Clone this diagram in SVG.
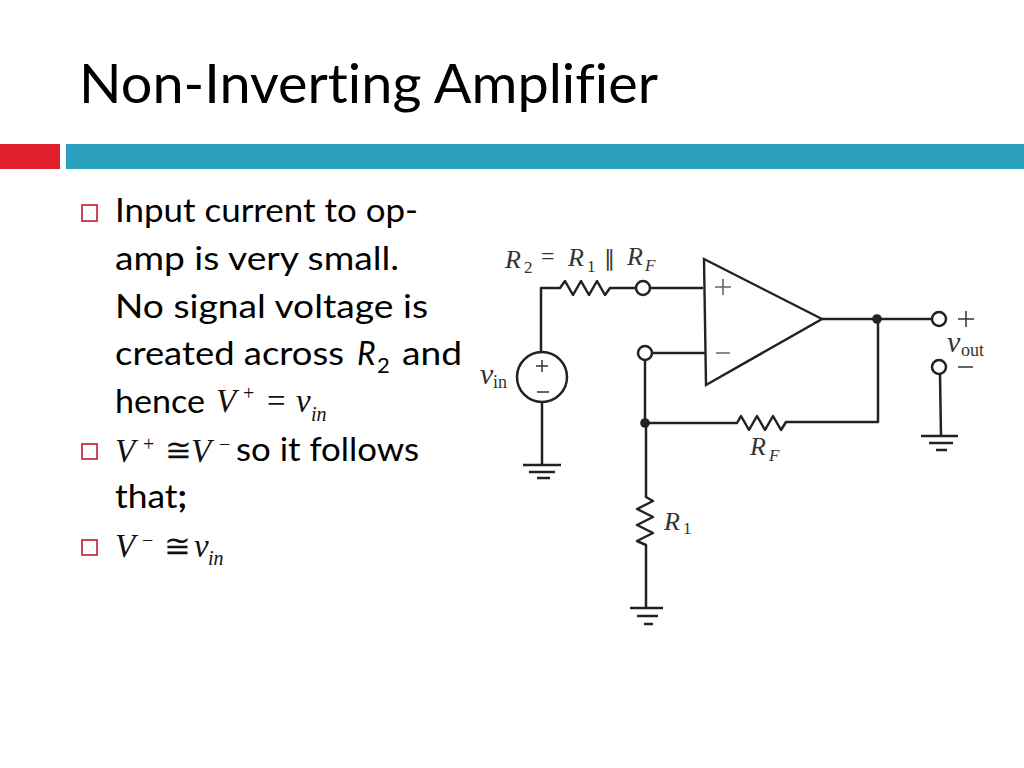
<svg xmlns="http://www.w3.org/2000/svg" width="1024" height="768" viewBox="0 0 1024 768">
<style>
text{font-variant-ligatures:none}
.t{font-family:"Lato","Noto Sans",sans-serif;font-size:32px;fill:#000}
.h{font-family:"Lato","Noto Sans",sans-serif;font-size:54px;fill:#000}
.m{font-family:"Liberation Serif",serif;fill:#111}
.mi{font-family:"Liberation Serif",serif;font-style:italic;fill:#111}
.c{font-family:"Liberation Serif",serif;fill:#333}
.ci{font-family:"Liberation Serif",serif;font-style:italic;fill:#333}
.w{fill:none;stroke:#222;stroke-width:2.5;stroke-linejoin:round}
.g{fill:none;stroke:#222;stroke-width:2.6}
.o{fill:#fff;stroke:#222;stroke-width:2.5}
.b{fill:#fff;stroke:#c8304a;stroke-width:1.8}
.d{fill:#222}
</style>
<rect width="1024" height="768" fill="#fff"/>
<g id="header">
<text class="h" x="79" y="103" textLength="579" lengthAdjust="spacingAndGlyphs">Non-Inverting Amplifier</text>
<rect x="0" y="144" width="60" height="25" fill="#e0202c"/>
<rect x="66" y="144" width="958" height="25" fill="#2ca0bf"/>
</g>
<g id="bullets">
<rect class="b" x="82" y="205" width="15" height="16"/>
<text class="t" x="115" y="222" textLength="303" lengthAdjust="spacingAndGlyphs">Input current to op-</text>
<text class="t" x="115" y="270" textLength="284" lengthAdjust="spacingAndGlyphs">amp is very small.</text>
<text class="t" x="115" y="318" textLength="313" lengthAdjust="spacingAndGlyphs">No signal voltage is</text>
<text class="t" x="115" y="365" textLength="229" lengthAdjust="spacingAndGlyphs">created across</text>
<text class="t" x="357" y="365" font-style="italic">R</text>
<text class="t" x="377" y="373" style="font-size:22px">2</text>
<text class="t" x="402" y="365" textLength="60" lengthAdjust="spacingAndGlyphs">and</text>
<text class="t" x="115" y="413" textLength="90" lengthAdjust="spacingAndGlyphs">hence</text>
<text class="mi" x="216" y="412" font-size="33">V</text>
<text class="m" x="243" y="400" font-size="20">+</text>
<text class="m" x="267" y="412" font-size="33">=</text>
<text class="mi" x="296" y="412" font-size="33">v</text>
<text class="mi" x="311" y="421" font-size="20">in</text>
<rect class="b" x="82" y="444" width="15" height="15"/>
<text class="mi" x="115" y="462" font-size="33">V</text>
<text class="m" x="143" y="451" font-size="20">+</text>
<text class="m" x="165" y="461" font-size="32">≅</text>
<text class="mi" x="191" y="462" font-size="33">V</text>
<text class="m" x="219" y="451" font-size="20">−</text>
<text class="t" x="236" y="461" textLength="183" lengthAdjust="spacingAndGlyphs">so it follows</text>
<text class="t" x="115" y="508" textLength="72" lengthAdjust="spacingAndGlyphs">that<tspan font-weight="700">;</tspan></text>
<rect class="b" x="82" y="540" width="15" height="15"/>
<text class="mi" x="115" y="557" font-size="33">V</text>
<text class="m" x="142" y="547" font-size="20">−</text>
<text class="m" x="164" y="557" font-size="32">≅</text>
<text class="mi" x="194" y="557" font-size="33">v</text>
<text class="mi" x="208" y="565" font-size="20">in</text>
</g>
<g id="connectors">
<path class="w" d="M541 352V288H560L565 281L573 295L581 281L589 295L597 281L605 295L610 288H636M650 288H703"/>
<path class="w" d="M652 353H705M645 360V423M646 423V497L653 501L637 509L653 517L637 525L653 533L637 541L646 545V608"/>
<path class="w" d="M645 423H737L741 416L749 430L757 416L765 430L773 416L781 430L786 422H878V319"/>
<path class="w" d="M822 319H932M940 374L941 436M542 402V465"/>
</g>
<g id="opamp">
<path fill="#fff" stroke="#222" stroke-width="2.4" stroke-linejoin="miter" d="M704 259L822 319L706 385Z"/>
<path d="M715 287H731M723 279V295M716 353H730" stroke="#666" stroke-width="1.6" fill="none"/>
</g>
<g id="source">
<circle class="o" cx="542" cy="377" r="25"/>
<path d="M536 366H548M542 360V372M537 392H549" stroke="#333" stroke-width="1.5" fill="none"/>
<text class="ci" x="480" y="384" font-size="30">v</text>
<text class="c" x="493" y="388" font-size="18">in</text>
</g>
<g id="r2">
<text class="ci" x="505" y="268" font-size="26">R</text>
<text class="c" x="524" y="273" font-size="17">2</text>
<text class="c" x="541" y="264" font-size="24">=</text>
<text class="ci" x="568" y="266" font-size="26">R</text>
<text class="c" x="587" y="272" font-size="17">1</text>
<text class="c" x="604" y="266" font-size="22">∥</text>
<text class="ci" x="627" y="265" font-size="26">R</text>
<text class="ci" x="645" y="271" font-size="17">F</text>
</g>
<g id="rf"><text class="ci" x="750" y="455" font-size="26">R</text><text class="ci" x="769" y="461" font-size="17">F</text></g>
<g id="r1"><text class="ci" x="664" y="530" font-size="26">R</text><text class="c" x="683" y="534" font-size="17">1</text></g>
<g id="nodes">
<circle class="o" cx="643" cy="288" r="7"/>
<circle class="o" cx="645" cy="353" r="7"/>
<circle class="o" cx="939" cy="319" r="7"/>
<circle class="o" cx="939" cy="367" r="7"/>
<circle class="d" cx="645" cy="423" r="4.8"/>
<circle class="d" cx="877" cy="319" r="4.8"/>
</g>
<g id="output">
<path d="M958 319H974M966 311V327M958 367H973" stroke="#333" stroke-width="1.5" fill="none"/>
<text class="ci" x="947" y="352" font-size="30">v</text>
<text class="c" x="961" y="356" font-size="18">out</text>
</g>
<g id="grounds">
<path class="g" d="M523 465H561M529 472H555M537 478H550"/>
<path class="g" d="M630 608H663M637 616H658M644 624H653"/>
<path class="g" d="M921 436H958M929 443H953M936 450H947"/>
</g>
</svg>
